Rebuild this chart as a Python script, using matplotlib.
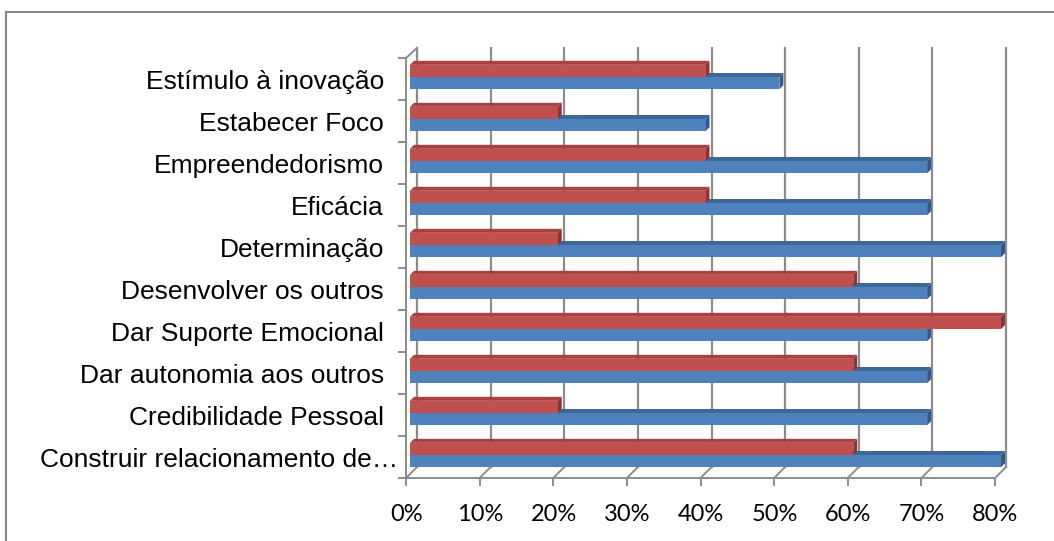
import numpy as np
import matplotlib.pyplot as plt
from matplotlib.patches import Polygon, Rectangle
from matplotlib.lines import Line2D

# categorias (de baixo para cima, como no gráfico do Excel)
categorias = ['Construir relacionamento de…', 'Credibilidade Pessoal',
              'Dar autonomia aos outros', 'Dar Suporte Emocional',
              'Desenvolver os outros', 'Determinação', 'Eficácia',
              'Empreendedorismo', 'Estabecer Foco', 'Estímulo à inovação']
serie_azul = [0.80, 0.70, 0.70, 0.70, 0.70, 0.80, 0.70, 0.70, 0.40, 0.50]
serie_vermelha = [0.60, 0.20, 0.60, 0.80, 0.60, 0.20, 0.40, 0.40, 0.20, 0.40]
x_ticks = [0.0, 0.1, 0.2, 0.3, 0.4, 0.5, 0.6, 0.7, 0.8]
x_labels = ['0%', '10%', '20%', '30%', '40%', '50%', '60%', '70%', '80%']

W, H, DPI = 1054, 541, 100
fig = plt.figure(figsize=(W / DPI, H / DPI), dpi=DPI)
ax = fig.add_axes([410 / W, 1 - 476 / H, 591 / W, 420 / H])
ax.set_xlim(0, 0.8)
ax.set_ylim(-0.5, 9.5)
ax.set_axis_off()

# tamanho de um pixel em unidades de dados
sx = 0.8 / 591
sy = 10 / 420

grid_col = '#8c8c8c'
y0, y1 = -0.5, 9.5

# parede do fundo (linhas de grade deslocadas em 3D)
for v in x_ticks:
    bx = v + (7 - 2 * v / 0.8) * sx
    ax.plot([bx, bx], [y0 + 9 * sy, y1 + 8 * sy], color=grid_col, lw=1.6,
            zorder=1, clip_on=False)
    # chão: segmento inclinado da frente para o fundo + marca
    fx = v + (-4 - 2 * v / 0.8) * sx
    ax.plot([fx, bx], [y0 - 2 * sy, y0 + 9 * sy], color=grid_col, lw=1.4,
            zorder=1, clip_on=False)
    ax.plot([fx, fx], [y0 - 2 * sy, y0 - 9 * sy], color=grid_col, lw=1.4,
            zorder=1, clip_on=False)

# linha da frente do chão
ax.plot([-4 * sx, 0.8 - 6 * sx], [y0 - 2 * sy] * 2, color=grid_col, lw=1.4,
        zorder=1, clip_on=False)

# eixo vertical da frente com marcas
lx = -4 * sx
ax.plot([lx, lx], [y0 - 2 * sy, y1 - 2 * sy], color=grid_col, lw=1.4,
        zorder=1, clip_on=False)
for k in range(len(categorias) + 1):
    yk = k - 0.5 - 2 * sy
    ax.plot([lx - 7 * sx, lx], [yk, yk], color=grid_col, lw=1.4, zorder=1,
            clip_on=False)
ax.plot([lx, 7 * sx], [y1 - 2 * sy, y1 + 8 * sy], color=grid_col, lw=1.4,
        zorder=1, clip_on=False)

# barras 3D
h = 0.29
dx, dy = 4 * sx, 4 * sy


def barra(v, base, frente, topo, lado, z):
    ax.add_patch(Polygon([(0, base + h), (v, base + h), (v + dx, base + h + dy),
                          (dx, base + h + dy)], closed=True, facecolor=topo,
                         edgecolor='none', zorder=z, clip_on=False))
    ax.add_patch(Polygon([(v, base), (v, base + h), (v + dx, base + h + dy),
                          (v + dx, base + dy)], closed=True, facecolor=lado,
                         edgecolor='none', zorder=z, clip_on=False))
    ax.add_patch(Rectangle((0, base), v, h, facecolor=frente, edgecolor='none',
                           zorder=z + 0.1, clip_on=False))


for i in range(len(categorias)):
    barra(serie_azul[i], i - h, '#4f81bd', '#3d6797', '#33588a', 3 + i * 0.01)
    barra(serie_vermelha[i], i, '#c0504d', '#a9423f', '#8c3533', 4 + i * 0.01)

# rótulos das categorias
for i, cat in enumerate(categorias):
    xr = -12 * sx if cat.endswith('…') else -26 * sx
    ax.text(xr, i - 12 * sy, cat, ha='right', va='baseline', fontsize=19,
            family='Liberation Sans', color='black', clip_on=False)

# rótulos do eixo x
for v, lab in zip(x_ticks, x_labels):
    ax.text(v + (-3 - 3 * v / 0.8) * sx, y0 - 45 * sy, lab, ha='center',
            va='baseline', fontsize=17, family='Lato', color='black',
            clip_on=False)

# moldura do gráfico (topo e esquerda)
fig.add_artist(Line2D([6 / W, 1], [1 - 12 / H, 1 - 12 / H],
                      transform=fig.transFigure, color='#878787', lw=1.5))
fig.add_artist(Line2D([6 / W, 6 / W], [0, 1 - 12 / H],
                      transform=fig.transFigure, color='#878787', lw=1.5))

fig.savefig('out.png', dpi=DPI)
